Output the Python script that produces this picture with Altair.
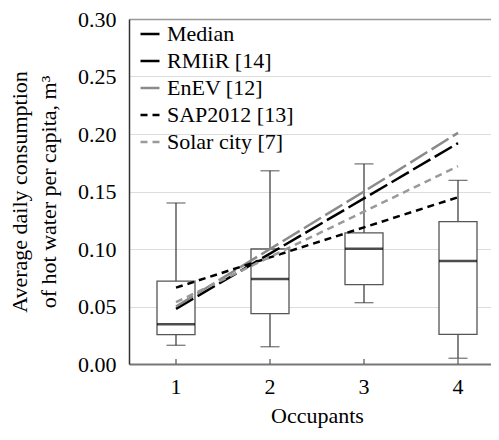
import altair as alt
import pandas as pd

occupants = ["1", "2", "3", "4"]
whisker_min = [0.0163, 0.015, 0.0533, 0.005]
q1 = [0.0255, 0.0438, 0.069, 0.0258]
median = [0.0345, 0.074, 0.1003, 0.0896]
q3 = [0.072, 0.100, 0.114, 0.1238]
whisker_max = [0.140, 0.168, 0.174, 0.1597]

series_names = ["Median", "RMIiR [14]", "EnEV [12]", "SAP2012 [13]", "Solar city  [7]"]
rmiir = [0.048, 0.096, 0.144, 0.192]
enev = [0.050, 0.100, 0.150, 0.201]
sap2012 = [0.0664, 0.0927, 0.1188, 0.145]
solar_city = [0.0537, 0.0931, 0.1325, 0.172]

box_df = pd.DataFrame({
    "occ": occupants, "lo": whisker_min, "q1": q1, "med": median,
    "q3": q3, "hi": whisker_max,
})

rows = []
for name, vals in [("RMIiR [14]", rmiir), ("EnEV [12]", enev),
                   ("SAP2012 [13]", sap2012), ("Solar city  [7]", solar_city)]:
    for o, v in zip(occupants, vals):
        rows.append({"occ": o, "series": name, "v": v})
line_df = pd.DataFrame(rows)

FONT = "Liberation Serif, Times New Roman, DejaVu Serif, serif"
FS = 22
H = 345
W = 362        # visible part of the plot (the reference crops its right side)
BAND_RANGE = 376

x_enc = alt.X("occ:N", title="Occupants",
              axis=alt.Axis(labelAngle=0, ticks=False, labelPadding=12,
                            domainColor="#777", domainWidth=2,
                            titlePadding=8, titleX=188),
              scale=alt.Scale(paddingInner=0, paddingOuter=0, range=[0, BAND_RANGE]))
y_scale = alt.Scale(domain=[0, 0.30], nice=False)
y_axis = alt.Axis(values=[0, 0.05, 0.10, 0.15, 0.20, 0.25, 0.30], format=".2f",
                  ticks=False, labelPadding=13,
                  gridColor=alt.condition("datum.value >= 0.299", alt.value("#999999"), alt.value("#dddddd")),
                  gridWidth=alt.condition("datum.value >= 0.299", alt.value(1.5), alt.value(1)),
                  domainColor="#333", domainWidth=1.5, titlePadding=17,
                  title=["Average daily consumption", "of hot water per capita, m\u00b3"])

base = alt.Chart(box_df)

whisk = base.mark_rule(color="#333", strokeWidth=1.2).encode(
    x=x_enc,
    y=alt.Y("lo:Q", scale=y_scale, axis=y_axis),
    y2="hi:Q",
)
box = base.mark_bar(size=38, fill="white", stroke="#555", strokeWidth=1.3).encode(
    x="occ:N", y="q1:Q", y2="q3:Q",
)
med = base.mark_tick(size=38, thickness=2.5, color="black").encode(
    x="occ:N", y="med:Q",
)
cap_lo = base.mark_tick(size=19, thickness=1.2, color="#333").encode(
    x="occ:N", y="lo:Q",
)
cap_hi = base.mark_tick(size=19, thickness=1.2, color="#333").encode(
    x="occ:N", y="hi:Q",
)
inner_ticks = base.mark_rule(color="#555", strokeWidth=1.2).encode(
    x="occ:N", y=alt.value(H - 5), y2=alt.value(H),
)

lines = alt.Chart(line_df).mark_line(strokeWidth=2.5).encode(
    x="occ:N",
    y="v:Q",
    color=alt.Color("series:N",
                    scale=alt.Scale(domain=series_names,
                                    range=["black", "black", "#8a8a8a", "black", "#9a9a9a"]),
                    legend=alt.Legend(title=None, orient="none", legendX=10, legendY=4,
                                      symbolType="stroke", symbolSize=361,
                                      symbolStrokeWidth=2.5, labelFontSize=FS,
                                      labelFont=FONT, labelColor="black",
                                      rowPadding=5, labelOffset=6, padding=0,
                                      labelLimit=300)),
    strokeDash=alt.StrokeDash("series:N",
                              scale=alt.Scale(domain=series_names,
                                              range=[[1, 0], [20, 5], [20, 5], [7, 5], [7, 5]]),
                              legend=None),
)

chart = alt.layer(whisk, box, med, cap_lo, cap_hi, inner_ticks, lines).properties(
    width=W, height=H,
    autosize=alt.AutoSizeParams(type="none"),
    padding={"left": 121, "top": 11, "right": 0, "bottom": 74},
).configure_view(
    stroke=None,
).configure_axis(
    labelFont=FONT, titleFont=FONT, labelFontSize=FS, titleFontSize=FS,
    labelColor="black", titleColor="black", titleFontWeight="normal",
    titleLineHeight=29,
).configure_axisX(grid=False)

chart.save("out.html", embed_options={"renderer": "svg", "actions": False})
